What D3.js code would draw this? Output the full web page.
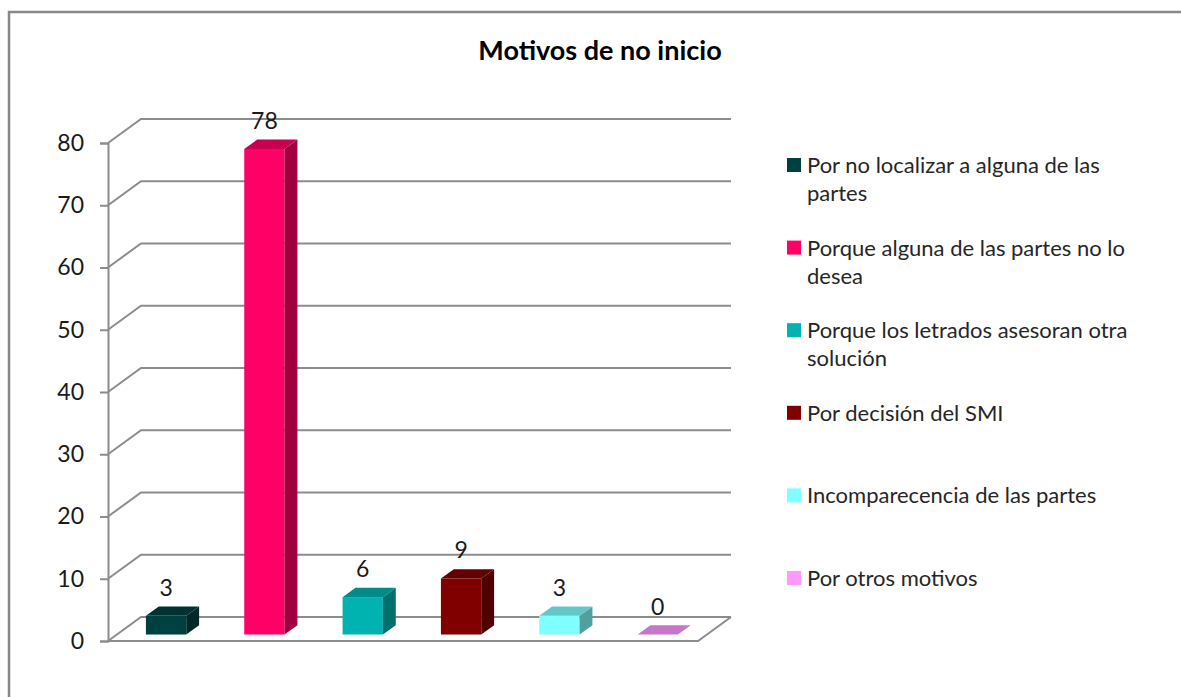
<!DOCTYPE html>
<html>
<head>
<meta charset="utf-8">
<script src="https://cdn.jsdelivr.net/npm/d3@7"></script>
<style>
  body { margin: 0; background: #fff; }
  text { font-family: Lato, "Open Sans", sans-serif; }
</style>
</head>
<body>
<svg id="canvas"></svg>
<script>
var width = 1181,
  height = 697;

var title = 'Motivos de no inicio';
var categories = [
  'Por no localizar a alguna de las partes',
  'Porque alguna de las partes no lo desea',
  'Porque los letrados asesoran otra solución',
  'Por decisión del SMI',
  'Incomparecencia de las partes',
  'Por otros motivos'
];
var values = [3, 78, 6, 9, 3, 0];
var colors = ['#004040', '#FF0066', '#00B2B0', '#800000', '#80FFFF', '#FF99FF'];
var yTicks = [0, 10, 20, 30, 40, 50, 60, 70, 80];

function draw() {
  var svg, x, y, depth, z0, z1, grid, bars, legend, gridColor = '#8C8C8C';

  svg = d3.select('#canvas')
    .attr('width', width)
    .attr('height', height);

  // outer border
  svg.append('rect')
    .attr('x', 9).attr('y', 12)
    .attr('width', 1300).attr('height', 900)
    .style('fill', 'none')
    .style('stroke', '#888')
    .style('stroke-width', 2.5);

  svg.append('text')
    .attr('x', 600).attr('y', 60)
    .attr('text-anchor', 'middle')
    .style('font-size', '27px')
    .style('font-weight', 'bold')
    .style('fill', '#000')
    .text(title);

  x = d3.scaleBand()
    .domain(categories)
    .range([108, 698])
    .paddingInner(0.59)
    .paddingOuter(0.295);

  y = d3.scaleLinear()
    .domain([0, 80])
    .range([641, 143]);

  // depth of the 3d box, and where the bars sit inside it
  depth = {x: 33, y: -24};
  z0 = 0.27;
  z1 = 0.66;

  grid = svg.append('g').attr('class', 'grid');

  // back wall + side wall lines
  grid.selectAll('path.gridline')
    .data(yTicks)
    .enter()
    .append('path')
    .attr('class', 'gridline')
    .attr('d', function(d) {
      var yy = y(d);
      return 'M' + x.range()[0] + ' ' + yy +
        ' L' + (x.range()[0] + depth.x) + ' ' + (yy + depth.y) +
        ' L' + (x.range()[1] + depth.x) + ' ' + (yy + depth.y);
    })
    .style('fill', 'none')
    .style('stroke', gridColor)
    .style('stroke-width', 2);

  // floor front + right edge
  grid.append('path')
    .attr('d', 'M' + x.range()[0] + ' ' + y(0) +
      ' L' + x.range()[1] + ' ' + y(0) +
      ' L' + (x.range()[1] + depth.x) + ' ' + (y(0) + depth.y))
    .style('fill', 'none')
    .style('stroke', gridColor)
    .style('stroke-width', 2);

  // vertical axis
  var axis = svg.append('g')
    .attr('transform', 'translate(' + x.range()[0] + ',0)')
    .call(d3.axisLeft(y).tickValues(yTicks).tickSize(8).tickPadding(16));
  axis.select('.domain').style('stroke', gridColor).style('stroke-width', 2);
  axis.selectAll('.tick line').style('stroke', gridColor).style('stroke-width', 2);
  axis.selectAll('.tick text')
    .style('font-size', '23px')
    .style('fill', '#1a1a1a')
    .style('font-family', 'Lato, sans-serif');

  // BARS
  bars = svg.selectAll('g.bar')
    .data(categories)
    .enter()
    .append('g')
    .attr('class', 'bar');

  function corners(d, i) {
    var fx = x(d) + depth.x * z0,
        fy0 = y(0) + depth.y * z0,
        fy1 = y(values[i]) + depth.y * z0,
        w = x.bandwidth(),
        bx = depth.x * (z1 - z0),
        by = depth.y * (z1 - z0);
    return {fx: fx, fy0: fy0, fy1: fy1, w: w, bx: bx, by: by};
  }

  // front face
  bars.append('rect')
    .attr('x', function(d, i) { return corners(d, i).fx; })
    .attr('y', function(d, i) { return corners(d, i).fy1; })
    .attr('width', x.bandwidth())
    .attr('height', function(d, i) { var c = corners(d, i); return c.fy0 - c.fy1; })
    .style('fill', function(d, i) { return colors[i]; });

  // side face
  bars.append('path')
    .attr('d', function(d, i) {
      var c = corners(d, i), r = c.fx + c.w;
      return 'M' + r + ' ' + c.fy1 + ' L' + (r + c.bx) + ' ' + (c.fy1 + c.by) +
        ' L' + (r + c.bx) + ' ' + (c.fy0 + c.by) + ' L' + r + ' ' + c.fy0 + ' Z';
    })
    .style('fill', function(d, i) { return d3.color(colors[i]).darker(1.3); });

  // top face
  bars.append('path')
    .attr('d', function(d, i) {
      var c = corners(d, i);
      return 'M' + c.fx + ' ' + c.fy1 + ' L' + (c.fx + c.bx) + ' ' + (c.fy1 + c.by) +
        ' L' + (c.fx + c.w + c.bx) + ' ' + (c.fy1 + c.by) + ' L' + (c.fx + c.w) + ' ' + c.fy1 + ' Z';
    })
    .style('fill', function(d, i) { return d3.color(colors[i]).darker(0.7); });

  // value labels
  bars.append('text')
    .attr('x', function(d, i) { var c = corners(d, i); return c.fx + c.w / 2; })
    .attr('y', function(d, i) { return corners(d, i).fy1 - 20; })
    .attr('text-anchor', 'middle')
    .style('font-size', '23px')
    .style('fill', '#1a1a1a')
    .text(function(d, i) { return values[i]; });

  // LEGEND
  legend = svg.selectAll('g.legend')
    .data(categories)
    .enter()
    .append('g')
    .attr('class', 'legend')
    .attr('transform', function(d, i) { return 'translate(787,' + (165 + i * 82.6) + ')'; });

  legend.append('rect')
    .attr('x', 0).attr('y', -7)
    .attr('width', 14).attr('height', 14)
    .style('fill', function(d, i) { return colors[i]; });

  legend.append('text')
    .attr('x', 20)
    .attr('y', 8)
    .style('font-size', '22px')
    .style('fill', '#262626')
    .each(function(d) { wrap(d3.select(this), d, 340); });

  function wrap(text, str, maxWidth) {
    var words = str.split(' '),
        line = [],
        tspan = text.append('tspan').attr('x', 20).attr('dy', 0);
    words.forEach(function(w) {
      line.push(w);
      tspan.text(line.join(' '));
      if (tspan.node().getComputedTextLength() > maxWidth && line.length > 1) {
        line.pop();
        tspan.text(line.join(' '));
        line = [w];
        tspan = text.append('tspan').attr('x', 20).attr('dy', 28).text(w);
      }
    });
  }
}

window.onload = draw;
</script>
</body>
</html>
